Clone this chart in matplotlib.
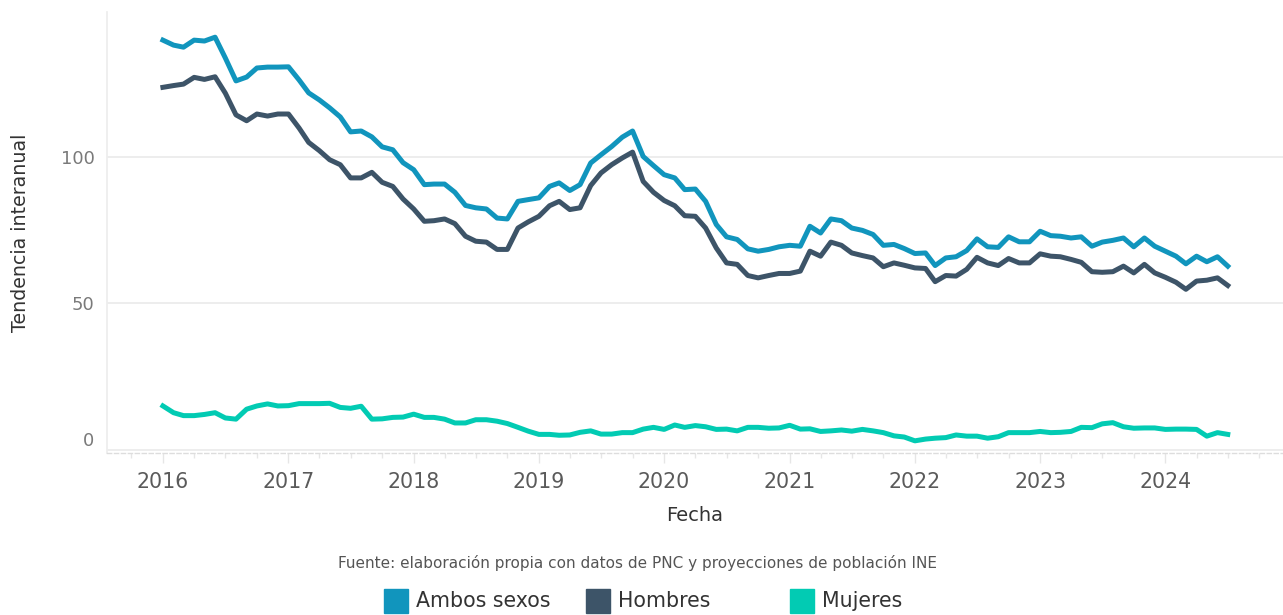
import numpy as np
import pandas as pd
import matplotlib
matplotlib.use("Agg")
import matplotlib.pyplot as plt
import matplotlib.dates as mdates
from matplotlib.patches import Rectangle

# monthly series, Jan 2016 .. Jul 2024
fechas = pd.date_range("2016-01-01", periods=103, freq="MS")

ambos = [139.8, 138.1, 137.4, 139.8, 139.5, 140.8, 133.7, 125.9, 127.2, 130.3, 130.6, 130.6,
         130.7, 126.2, 121.8, 119.4, 116.7, 113.6, 108.5, 108.8, 106.8, 103.4, 102.4, 98.0,
         95.6, 90.5, 90.7, 90.7, 87.9, 83.4, 82.6, 82.2, 79.1, 78.8, 84.8, 85.4,
         86.0, 89.9, 91.1, 88.5, 90.5, 97.9, 100.7, 103.5, 106.7, 108.8, 100.1, 97.0,
         93.9, 92.8, 88.8, 89.0, 84.8, 76.9, 72.7, 71.8, 68.6, 67.8, 68.4, 69.3,
         69.8, 69.5, 76.3, 74.0, 78.8, 78.2, 75.7, 74.9, 73.5, 69.8, 70.1, 68.7,
         67.0, 67.2, 62.9, 65.5, 65.9, 68.0, 72.0, 69.3, 69.1, 72.7, 71.0, 71.0,
         74.6, 73.1, 72.9, 72.3, 72.7, 69.5, 70.9, 71.5, 72.3, 69.3, 72.3, 69.5,
         67.8, 66.1, 63.5, 66.1, 64.2, 65.9, 62.7]

hombres = [123.7, 124.3, 124.8, 127.1, 126.4, 127.3, 121.7, 114.3, 112.3, 114.6, 113.9, 114.6,
           114.6, 109.8, 104.9, 102.1, 99.0, 97.3, 92.8, 92.8, 94.7, 91.3, 89.9, 85.6,
           82.2, 78.0, 78.2, 78.8, 77.2, 72.9, 71.2, 70.9, 68.4, 68.4, 75.7, 77.8,
           79.7, 83.3, 84.8, 82.0, 82.6, 90.2, 94.5, 97.3, 99.6, 101.6, 91.6, 87.9,
           85.1, 83.3, 79.9, 79.7, 75.7, 68.9, 63.8, 63.3, 59.5, 58.7, 59.5, 60.2,
           60.2, 61.0, 67.8, 66.1, 70.9, 69.8, 67.2, 66.3, 65.5, 62.5, 63.8, 63.0,
           62.1, 61.9, 57.4, 59.5, 59.3, 61.6, 65.7, 63.8, 62.9, 65.3, 63.8, 63.8,
           66.9, 66.1, 65.9, 65.0, 64.0, 60.8, 60.6, 60.8, 62.7, 60.4, 63.3, 60.4,
           58.9, 57.2, 54.8, 57.6, 57.9, 58.7, 56.1]

mujeres = [15.0, 12.7, 11.7, 11.7, 12.1, 12.7, 10.9, 10.5, 13.9, 15.0, 15.7, 15.0,
           15.1, 15.8, 15.8, 15.8, 15.9, 14.5, 14.2, 14.9, 10.5, 10.6, 11.1, 11.2,
           12.2, 11.1, 11.1, 10.5, 9.2, 9.2, 10.3, 10.3, 9.8, 9.0, 7.7, 6.4,
           5.3, 5.3, 5.0, 5.1, 6.0, 6.5, 5.4, 5.4, 5.9, 5.9, 7.1, 7.7,
           7.0, 8.5, 7.7, 8.3, 7.9, 7.0, 7.1, 6.5, 7.7, 7.7, 7.4, 7.5,
           8.4, 7.1, 7.2, 6.3, 6.5, 6.8, 6.4, 7.0, 6.5, 5.9, 4.8, 4.4,
           3.1, 3.7, 4.0, 4.2, 5.1, 4.7, 4.7, 4.0, 4.5, 5.9, 5.9, 5.9,
           6.3, 5.9, 6.0, 6.3, 7.7, 7.6, 8.9, 9.3, 7.9, 7.4, 7.5, 7.5,
           7.0, 7.1, 7.1, 7.0, 4.7, 5.9, 5.3]

series = ["Ambos sexos", "Hombres", "Mujeres"]
colores = ["#1195BD", "#3D5468", "#02CBB3"]
yticks = [0, 50, 100]

plt.rcParams["font.family"] = ["DejaVu Sans"]

fig = plt.figure(figsize=(12.83, 6.15), dpi=100)
ax = fig.add_axes([107 / 1283, 1 - 453 / 615, 1176 / 1283, 441 / 615])

for nombre, vals, col in zip(series, [ambos, hombres, mujeres], colores):
    ax.plot(fechas, vals, color=col, lw=3.6, label=nombre, solid_joinstyle="round")

ax.set_ylim(-1.05, 149.4)
ax.set_xlim(pd.Timestamp("2015-07-22"), pd.Timestamp("2024-12-09"))

ax.set_yticks(yticks)
ax.set_yticklabels([str(t) for t in yticks])
ax.tick_params(axis="y", length=0, pad=9, labelsize=13, labelcolor="#7a7a7a")
ax.get_yticklabels()[0].set_verticalalignment("bottom")
ax.grid(axis="y", color="#ececec", lw=1.3)
ax.set_axisbelow(True)

ax.xaxis.set_major_locator(mdates.YearLocator())
ax.xaxis.set_major_formatter(mdates.DateFormatter("%Y"))
ax.xaxis.set_minor_locator(mdates.MonthLocator(bymonth=[1, 4, 7, 10]))
ax.tick_params(axis="x", which="major", length=7, width=1, color="#e6e6e6",
               pad=7, labelsize=14.8, labelcolor="#5a5a5a")
ax.tick_params(axis="x", which="minor", length=3.5, width=1, color="#e6e6e6")

for s in ["top", "right"]:
    ax.spines[s].set_visible(False)
ax.spines["left"].set_color("#eeeeee")
ax.spines["left"].set_linewidth(1.3)
ax.spines["bottom"].set_color("#dddddd")
ax.spines["bottom"].set_linestyle((0, (3, 2)))
ax.spines["bottom"].set_linewidth(1)

ax.set_xlabel("Fecha", fontsize=14, color="#333333", labelpad=10)
ax.set_ylabel("Tendencia interanual", fontsize=13.7, color="#333333", labelpad=22)

fig.text(637 / 1283, 1 - 563 / 615,
         "Fuente: elaboración propia con datos de PNC y proyecciones de población INE",
         ha="center", va="center", fontsize=11, color="#555555")

# legend with fixed-width entries
leg_x = [384, 586, 790]
for px, nombre, col in zip(leg_x, series, colores):
    fig.patches.append(Rectangle((px / 1283, 1 - 613 / 615), 24 / 1283, 24 / 615,
                                 transform=fig.transFigure, color=col))
    fig.text((px + 32) / 1283, 1 - 601 / 615, nombre, ha="left", va="center",
             fontsize=14.8, color="#333333")

fig.savefig("out.png", dpi=100)
